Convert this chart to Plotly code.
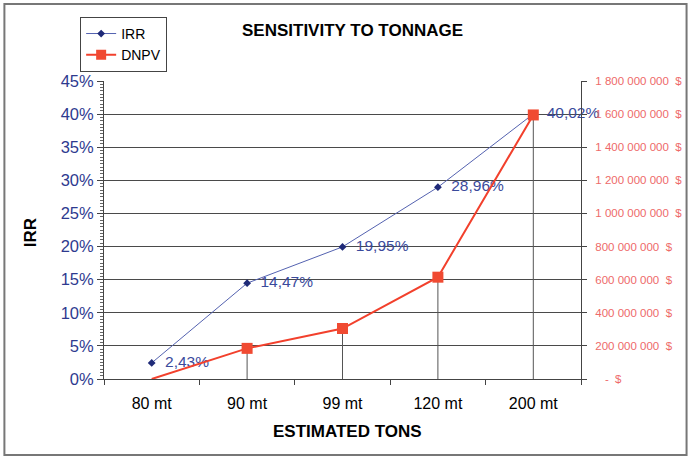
import plotly.graph_objects as go

categories = ["80 mt", "90 mt", "99 mt", "120 mt", "200 mt"]
irr = [0.0243, 0.1447, 0.1995, 0.2896, 0.4002]
dnpv = [0, 185e6, 305e6, 615e6, 1595e6]
right_tick_vals = [0, 2e8, 4e8, 6e8, 8e8, 1e9, 1.2e9, 1.4e9, 1.6e9, 1.8e9]
right_tick_text = ["\u00a0\u00a0\u00a0-\u00a0\u00a0$", "200 000 000\u00a0\u00a0$", "400 000 000\u00a0\u00a0$",
                   "600 000 000\u00a0\u00a0$", "800 000 000\u00a0\u00a0$", "1 000 000 000\u00a0\u00a0$",
                   "1 200 000 000\u00a0\u00a0$", "1 400 000 000\u00a0\u00a0$", "1 600 000 000\u00a0\u00a0$",
                   "1 800 000 000\u00a0\u00a0$"]

FONT = "Liberation Sans, Arial, sans-serif"
BLUE_TXT = "#2e3a8f"
RED = "#f2402c"
GRID = "#4a4a4a"

fig = go.Figure()

# IRR
fig.add_trace(go.Scatter(
    x=categories, y=irr, name="IRR", mode="lines+markers+text",
    line=dict(color="#5462b0", width=1),
    marker=dict(symbol="diamond", size=6, color="#1f2a78"),
    text=["\u00a0\u00a0" + f"{v*100:.2f}%".replace(".", ",") for v in irr],
    textposition="middle right",
    textfont=dict(family=FONT, size=15.5, color="#3a4a9c"),
    cliponaxis=False, yaxis="y"))

# DNPV line (all points)
fig.add_trace(go.Scatter(
    x=categories, y=dnpv, name="DNPV", mode="lines",
    line=dict(color=RED, width=2), showlegend=False, yaxis="y2"))

# DNPV markers with drop lines (points above axis)
pos = [(c, v) for c, v in zip(categories, dnpv) if v > 0]
fig.add_trace(go.Scatter(
    x=[p[0] for p in pos], y=[p[1] for p in pos], mode="markers",
    marker=dict(symbol="square", size=11, color="#f04a32"),
    error_y=dict(type="data", symmetric=False, array=[0] * len(pos),
                 arrayminus=[p[1] for p in pos], color="#555555", thickness=1, width=0),
    showlegend=False, yaxis="y2"))

# legend entry for DNPV
fig.add_trace(go.Scatter(
    x=[None], y=[None], name="DNPV", mode="lines+markers",
    line=dict(color=RED, width=2),
    marker=dict(symbol="square", size=10, color="#f04a32"), yaxis="y2"))

fig.update_layout(
    width=694, height=460,
    margin=dict(l=104, r=111, t=81, b=81),
    paper_bgcolor="white", plot_bgcolor="white",
    font=dict(family=FONT, color="black"),
    showlegend=True,
    legend=dict(x=-0.05, y=1.215, xanchor="left", yanchor="top",
                bordercolor="#444444", borderwidth=1, bgcolor="white",
                font=dict(family=FONT, size=14, color="black"),
                tracegroupgap=0, itemwidth=30),
    xaxis=dict(type="category", showline=True, linecolor="#444444", linewidth=1,
               ticks="outside", ticklen=5, tickcolor="#444444", tickson="boundaries",
               showgrid=False, tickfont=dict(family=FONT, size=16, color="black"),
               ticklabelstandoff=10, range=[-0.5, 4.5]),
    yaxis=dict(range=[0, 0.45], dtick=0.05, tickformat=".0%",
               showline=True, linecolor="#444444", linewidth=1,
               ticks="outside", ticklen=6, tickcolor="#444444",
               showgrid=True, gridcolor=GRID, gridwidth=1, zeroline=False,
               tickfont=dict(family=FONT, size=16.5, color=BLUE_TXT),
               minor=dict(ticks="outside", dtick=0.005, ticklen=3, tickcolor="#666666", showgrid=False)),
    yaxis2=dict(range=[0, 1.8e9], overlaying="y", side="right",
                tickvals=right_tick_vals, ticktext=right_tick_text,
                showline=True, linecolor="#444444", linewidth=1,
                ticks="outside", ticklen=5, tickcolor="#444444",
                showgrid=False, zeroline=False, ticklabelstandoff=6,
                tickfont=dict(family=FONT, size=11.5, color="#ee6a6a")),
    shapes=[dict(type="rect", xref="paper", yref="paper",
                 x0=-0.2088, x1=1.2213, y0=-0.255, y1=1.2584,
                 line=dict(color="#777777", width=2), fillcolor="rgba(0,0,0,0)", layer="below")],
    annotations=[
        dict(text="<b>SENSITIVITY TO TONNAGE</b>", xref="paper", yref="paper",
             x=0.52, y=(379 - 30) / 298, xanchor="center", yanchor="middle",
             showarrow=False, font=dict(family=FONT, size=17, color="black")),
        dict(text="<b>ESTIMATED TONS</b>", xref="paper", yref="paper",
             x=0.51, y=(379 - 431) / 298, xanchor="center", yanchor="middle",
             showarrow=False, font=dict(family=FONT, size=17, color="black")),
        dict(text="<b>IRR</b>", xref="paper", yref="paper", textangle=-90,
             x=(31 - 104) / 479, y=0.49, xanchor="center", yanchor="middle",
             showarrow=False, font=dict(family=FONT, size=17, color="black")),
    ],
)

fig.write_html("out.html")
